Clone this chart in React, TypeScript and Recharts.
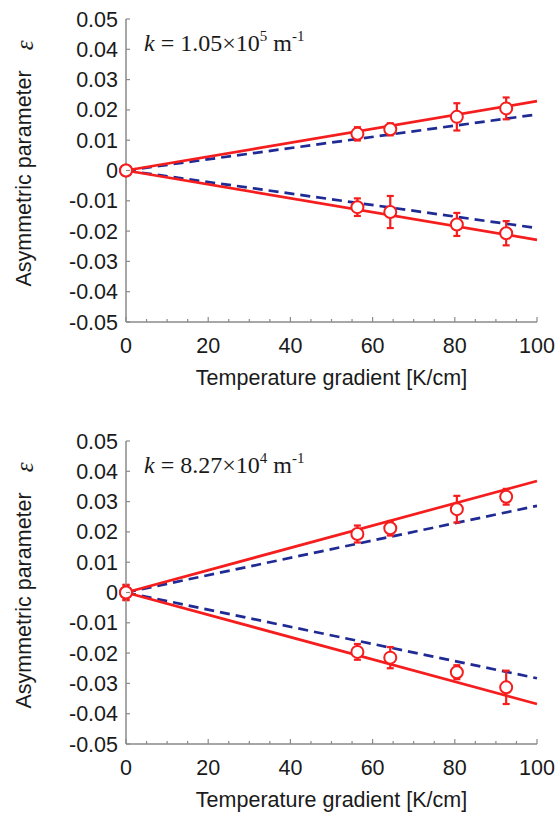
import { ComposedChart, ErrorBar, Line, Scatter, XAxis, YAxis } from "recharts";

// shared x positions of the measured points [K/cm]
const gradient = [0, 56.3, 64.3, 80.5, 92.5];
const fitX = [0, 100];

const xTicks = [0, 5, 10, 15, 20, 25, 30, 35, 40, 45, 50, 55, 60, 65, 70, 75, 80, 85, 90, 95, 100];
const yTicks = [-0.05, -0.04, -0.03, -0.02, -0.01, 0, 0.01, 0.02, 0.03, 0.04, 0.05];

// panel A : k = 1.05e5
const upperA = [0, 0.0121, 0.0136, 0.0177, 0.0205];
const upperErrA = [0.001, 0.0022, 0.002, 0.0045, 0.0036];
const lowerA = [0, -0.0121, -0.0137, -0.0178, -0.0207];
const lowerErrA = [0.001, 0.0029, 0.0053, 0.0038, 0.004];
const solidUpA = [0, 0.0229];
const dashUpA = [0, 0.0185];
const solidLowA = [0, -0.0229];
const dashLowA = [0, -0.019];

// panel B : k = 8.27e4
const upperB = [0, 0.0193, 0.0212, 0.0275, 0.0316];
const upperErrB = [0.0025, 0.0028, 0.0024, 0.0044, 0.0026];
const lowerB = [0, -0.0196, -0.0215, -0.0263, -0.0313];
const lowerErrB = [0.0025, 0.0026, 0.0035, 0.0023, 0.0055];
const solidUpB = [0, 0.0368];
const dashUpB = [0, 0.0286];
const solidLowB = [0, -0.0368];
const dashLowB = [0, -0.0283];

const RED = "#f51d1d";
const BLUE = "#1f2a94";
const AXIS = "#8a8a8a";
const INK = "#1a1a1a";
const SANS = "'Liberation Sans', Arial, sans-serif";
const SERIF = "'Liberation Serif', 'Times New Roman', serif";

const BottomTick = (props: any) => {
  const { x, y, payload } = props;
  const major = payload.value % 20 === 0;
  return (
    <g>
      <line x1={x} y1={y} x2={x} y2={y - (major ? 5 : 3)} stroke={AXIS} strokeWidth={1.2} />
      {major && (
        <text x={x} y={y + 31} textAnchor="middle" fontSize={21.5} fill={INK} fontFamily={SANS}>
          {payload.value}
        </text>
      )}
    </g>
  );
};

const TopTick = (props: any) => {
  const { x, y, payload } = props;
  const major = payload.value % 20 === 0;
  return <line x1={x} y1={y} x2={x} y2={y + (major ? 5 : 3)} stroke={AXIS} strokeWidth={1.2} />;
};

const LeftTick = (props: any) => {
  const { x, y, payload } = props;
  const v = payload.value;
  return (
    <g>
      <line x1={x} y1={y} x2={x + 4} y2={y} stroke={AXIS} strokeWidth={1.2} />
      <text x={x - 8} y={y + 7.5} textAnchor="end" fontSize={21.5} fill={INK} fontFamily={SANS}>
        {v === 0 ? "0" : v.toFixed(2)}
      </text>
    </g>
  );
};

const RightTick = (props: any) => {
  const { x, y } = props;
  return <line x1={x} y1={y} x2={x - 4} y2={y} stroke={AXIS} strokeWidth={1.2} />;
};

const OpenCircle = (props: any) => (
  <circle cx={props.cx} cy={props.cy} r={6} fill="#fff" stroke={RED} strokeWidth={2} />
);

type PanelProps = {
  upper: number[];
  upperErr: number[];
  lower: number[];
  lowerErr: number[];
  solidUp: number[];
  dashUp: number[];
  solidLow: number[];
  dashLow: number[];
  mantissa: string;
  exponent: string;
};

function Panel(p: PanelProps) {
  const pts = (ys: number[], errs: number[]) => gradient.map((x, i) => ({ x, y: ys[i], err: errs[i] }));
  const fit = (ys: number[]) => fitX.map((x, i) => ({ x, y: ys[i] }));

  return (
    <ComposedChart width={556} height={392} margin={{ top: 19, right: 19, bottom: 0, left: 0 }}>
      <XAxis
        dataKey="x"
        type="number"
        domain={[0, 100]}
        ticks={xTicks}
        interval={0}
        tickSize={0}
        tickMargin={0}
        tickLine={false}
        height={70}
        axisLine={{ stroke: AXIS, strokeWidth: 1.5 }}
        tick={BottomTick}
        label={{
          content: (lp: any) => {
            const vb = lp.viewBox;
            return (
              <text x={vb.x + vb.width / 2} y={vb.y + 63} textAnchor="middle" fontSize={21.5} fill={INK} fontFamily={SANS}>
                Temperature gradient [K/cm]
              </text>
            );
          },
        }}
      />
      <XAxis
        xAxisId="top"
        orientation="top"
        dataKey="x"
        type="number"
        domain={[0, 100]}
        allowDataOverflow
        ticks={xTicks}
        interval={0}
        tickSize={0}
        tickMargin={0}
        tickLine={false}
        height={0}
        axisLine={{ stroke: AXIS, strokeWidth: 1.5 }}
        tick={TopTick}
      />
      <YAxis
        type="number"
        domain={[-0.05, 0.05]}
        ticks={yTicks}
        interval={0}
        tickSize={0}
        tickMargin={0}
        tickLine={false}
        width={126}
        axisLine={{ stroke: AXIS, strokeWidth: 1.5 }}
        tick={LeftTick}
        label={{
          content: (lp: any) => {
            const vb = lp.viewBox;
            const cy = vb.y + vb.height / 2 - 7;
            const plotLeft = vb.x + vb.width;
            return (
              <g>
                <text
                  x={24}
                  y={cy}
                  transform={`rotate(-90 24 ${cy})`}
                  textAnchor="middle"
                  dominantBaseline="central"
                  fontSize={21.5}
                  fill={INK}
                  fontFamily={SANS}
                >
                  Asymmetric parameter
                  <tspan dx={20} fontSize={25} fontFamily={SERIF} fontStyle="italic">
                    ε
                  </tspan>
                </text>
                <text x={plotLeft + 18} y={vb.y + 32} fontSize={24} fill={INK} fontFamily={SERIF}>
                  <tspan fontStyle="italic">k</tspan>
                  <tspan> = {p.mantissa}×10</tspan>
                  <tspan fontSize={15} dy={-10}>{p.exponent}</tspan>
                  <tspan dy={10}> m</tspan>
                  <tspan fontSize={15} dy={-10}>-1</tspan>
                </text>
              </g>
            );
          },
        }}
      />
      <YAxis
        yAxisId="right"
        orientation="right"
        type="number"
        domain={[-0.05, 0.05]}
        allowDataOverflow
        ticks={yTicks}
        interval={0}
        tickSize={0}
        tickMargin={0}
        tickLine={false}
        width={0}
        axisLine={{ stroke: AXIS, strokeWidth: 1.5 }}
        tick={RightTick}
      />

      <Line data={fit(p.dashUp)} dataKey="y" type="linear" stroke={BLUE} strokeWidth={2.7} strokeDasharray="10 6" dot={false} isAnimationActive={false} />
      <Line data={fit(p.dashLow)} dataKey="y" type="linear" stroke={BLUE} strokeWidth={2.7} strokeDasharray="10 6" dot={false} isAnimationActive={false} />
      <Line data={fit(p.solidUp)} dataKey="y" type="linear" stroke={RED} strokeWidth={2.7} dot={false} isAnimationActive={false} />
      <Line data={fit(p.solidLow)} dataKey="y" type="linear" stroke={RED} strokeWidth={2.7} dot={false} isAnimationActive={false} />

      <Scatter data={pts(p.upper, p.upperErr)} dataKey="y" shape={OpenCircle} isAnimationActive={false}>
        <ErrorBar dataKey="err" direction="y" width={3.5} stroke={RED} strokeWidth={2.2} isAnimationActive={false} />
      </Scatter>
      <Scatter data={pts(p.lower, p.lowerErr)} dataKey="y" shape={OpenCircle} isAnimationActive={false}>
        <ErrorBar dataKey="err" direction="y" width={3.5} stroke={RED} strokeWidth={2.2} isAnimationActive={false} />
      </Scatter>
    </ComposedChart>
  );
}

export default function App() {
  return (
    <div style={{ width: 556, height: 814, background: "#fff" }}>
      <style>{"body{margin:0}"}</style>
      <Panel
        upper={upperA}
        upperErr={upperErrA}
        lower={lowerA}
        lowerErr={lowerErrA}
        solidUp={solidUpA}
        dashUp={dashUpA}
        solidLow={solidLowA}
        dashLow={dashLowA}
        mantissa="1.05"
        exponent="5"
      />
      <div style={{ height: 30 }} />
      <Panel
        upper={upperB}
        upperErr={upperErrB}
        lower={lowerB}
        lowerErr={lowerErrB}
        solidUp={solidUpB}
        dashUp={dashUpB}
        solidLow={solidLowB}
        dashLow={dashLowB}
        mantissa="8.27"
        exponent="4"
      />
    </div>
  );
}
